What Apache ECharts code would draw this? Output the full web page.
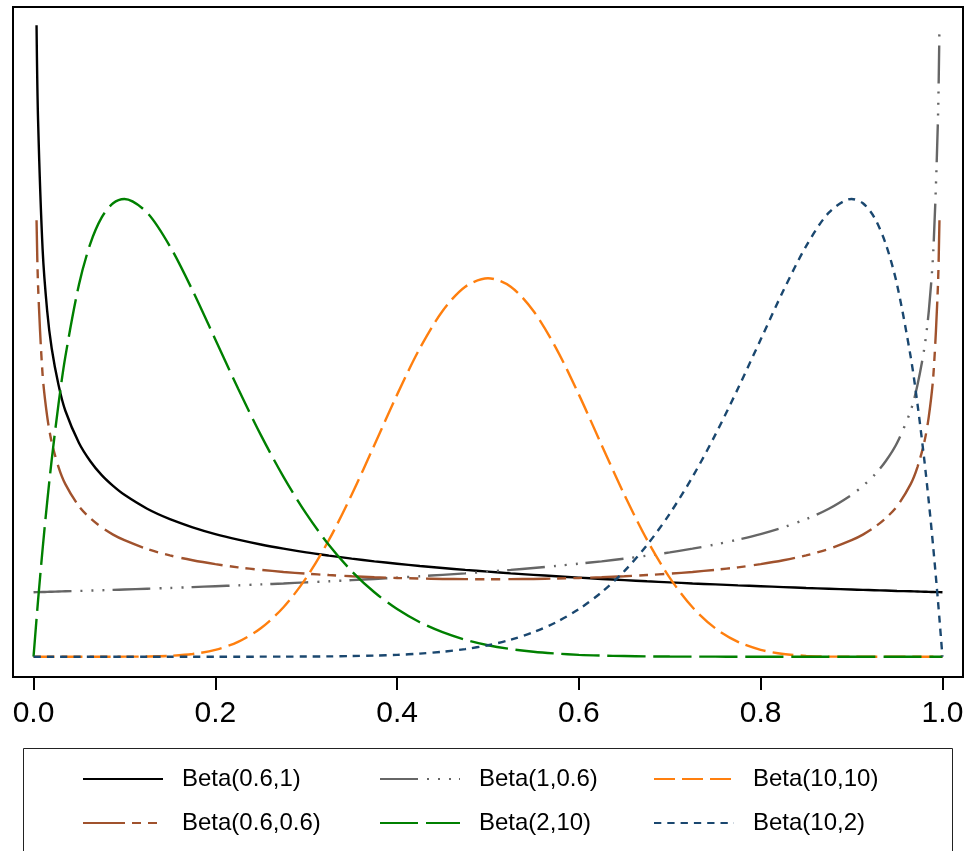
<!DOCTYPE html>
<html>
<head>
<meta charset="utf-8">
<script src="https://cdn.jsdelivr.net/npm/echarts@6.0.0/dist/echarts.min.js"></script>
<style>
  html, body { margin: 0; padding: 0; background: #fff; }
  #chart { width: 968px; height: 851px; }
</style>
</head>
<body>
<div id="chart"></div>
<script>
const xs = [0, 0.0033, 0.005, 0.01, 0.015, 0.02, 0.0275, 0.035, 0.05, 0.0625, 0.075, 0.0875,
  0.1, 0.125, 0.15, 0.175, 0.2, 0.225, 0.25, 0.275, 0.3, 0.325, 0.35, 0.375, 0.4, 0.425,
  0.45, 0.475, 0.5, 0.525, 0.55, 0.575, 0.6, 0.625, 0.65, 0.675, 0.7, 0.725, 0.75, 0.775,
  0.8, 0.825, 0.85, 0.875, 0.9,
  0.9125, 0.925, 0.9375, 0.95, 0.965, 0.9725, 0.98, 0.985, 0.99, 0.995, 0.9967, 1];

const beta_06_1 = [null, 5.88, 4.99, 3.79, 3.22, 2.87, 2.53, 2.29, 1.99, 1.82, 1.69, 1.590,
  1.507, 1.378, 1.281, 1.205, 1.142, 1.090, 1.045, 1.006, 0.971, 0.941, 0.913, 0.888, 0.866, 0.845,
  0.826, 0.808, 0.792, 0.776, 0.762, 0.749, 0.736, 0.724, 0.713, 0.702, 0.692, 0.682, 0.673, 0.664,
  0.656, 0.648, 0.640, 0.633, 0.626,
  0.622, 0.619, 0.616, 0.612, 0.609, 0.607, 0.605, 0.604, 0.602, 0.601, 0.601, 0.600];

const beta_1_06 = [0.600, 0.601, 0.601, 0.602, 0.604, 0.605, 0.607, 0.609, 0.612, 0.616, 0.619, 0.622,
  0.626, 0.633, 0.640, 0.648, 0.656, 0.664, 0.673, 0.682, 0.692, 0.702, 0.713, 0.724, 0.736, 0.749,
  0.762, 0.776, 0.792, 0.808, 0.826, 0.845, 0.866, 0.888, 0.913, 0.941, 0.971, 1.006, 1.045, 1.090,
  1.142, 1.205, 1.281, 1.378, 1.507,
  1.590, 1.69, 1.82, 1.99, 2.29, 2.53, 2.87, 3.22, 3.79, 4.99, 5.88, null];

const beta_10_10 = [0, 0, 0, 0, 0, 0, 0, 0, 0, 0, 0, 0,
  0.0004, 0.002, 0.008, 0.025, 0.064, 0.138, 0.265, 0.460, 0.734, 1.087, 1.508, 1.971, 2.440, 2.871,
  3.219, 3.445, 3.524, 3.445, 3.219, 2.871, 2.440, 1.971, 1.508, 1.087, 0.734, 0.460, 0.265, 0.138,
  0.064, 0.025, 0.008, 0.002, 0.0004,
  0, 0, 0, 0, 0, 0, 0, 0, 0, 0, 0, 0];

const beta_06_06 = [null, 4.064, 3.449, 2.621, 2.237, 1.996, 1.766, 1.607, 1.400, 1.289, 1.204, 1.137,
  1.085, 1.003, 0.943, 0.898, 0.862, 0.832, 0.809, 0.789, 0.773, 0.760, 0.749, 0.740, 0.733, 0.728,
  0.724, 0.722, 0.721, 0.722, 0.724, 0.728, 0.733, 0.740, 0.749, 0.760, 0.773, 0.789, 0.809, 0.832,
  0.862, 0.898, 0.943, 1.003, 1.085,
  1.137, 1.204, 1.289, 1.400, 1.607, 1.766, 1.996, 2.237, 2.621, 3.449, 4.064, null];

const beta_2_10 = [0, 0.352, 0.526, 1.005, 1.440, 1.834, 2.354, 2.794, 3.466, 3.846, 4.090, 4.222,
  4.262, 4.134, 3.822, 3.409, 2.953, 2.497, 2.065, 1.674, 1.332, 1.040, 0.797, 0.600, 0.443, 0.321,
  0.228, 0.158, 0.107, 0.071, 0.046, 0.029, 0.017, 0.010, 0.006, 0.003, 0.0015, 0.0007, 0.0003, 0.0001,
  0, 0, 0, 0, 0,
  0, 0, 0, 0, 0, 0, 0, 0, 0, 0, 0, 0];

const beta_10_2 = [0, 0, 0, 0, 0, 0, 0, 0, 0, 0, 0, 0,
  0, 0, 0, 0, 0, 0.0001, 0.0003, 0.0007, 0.0015, 0.003, 0.006, 0.010, 0.017, 0.029,
  0.046, 0.071, 0.107, 0.158, 0.228, 0.321, 0.443, 0.600, 0.797, 1.040, 1.332, 1.674, 2.065, 2.497,
  2.953, 3.409, 3.822, 4.134, 4.262,
  4.222, 4.090, 3.846, 3.466, 2.794, 2.354, 1.834, 1.440, 1.005, 0.526, 0.352, 0];

const xTicks = [0, 0.2, 0.4, 0.6, 0.8, 1];

// series in the order they were drawn (later ones on top)
const curves = [
  { name: 'Beta(0.6,1)',   values: beta_06_1,  color: '#000000', dash: 'solid' },
  { name: 'Beta(1,0.6)',   values: beta_1_06,  color: '#666666', dash: [38, 9, 2, 9, 2, 9, 2, 8] },
  { name: 'Beta(10,10)',   values: beta_10_10, color: '#ff7f0e', dash: [21, 7] },
  { name: 'Beta(0.6,0.6)', values: beta_06_06, color: '#a0522d', dash: [42, 7, 9, 7, 9, 8] },
  { name: 'Beta(2,10)',    values: beta_2_10,  color: '#008000', dash: [38, 8] },
  { name: 'Beta(10,2)',    values: beta_10_2,  color: '#1a476f', dash: [7.3, 6] }
];

const chart = echarts.init(document.getElementById('chart'));

const legendBase = {
  orient: 'vertical',
  top: 767,
  padding: 0,
  itemGap: 20,
  itemWidth: 80,
  itemHeight: 24,
  selectedMode: false,
  itemStyle: { opacity: 0 },
  textStyle: {
    fontFamily: 'Liberation Sans, Arial, sans-serif',
    fontSize: 24,
    lineHeight: 24,
    color: '#000',
    padding: [0, 0, 0, 14]
  }
};

chart.setOption({
  animation: false,
  backgroundColor: '#fff',
  grid: {
    left: 13,
    right: 5,
    top: 7,
    bottom: 174,
    show: true,
    borderColor: '#000',
    borderWidth: 2,
    backgroundColor: 'transparent'
  },
  xAxis: {
    type: 'value',
    min: -0.0226,
    max: 1.0226,
    axisLine: { show: false, onZero: false },
    splitLine: { show: false },
    axisTick: {
      show: true,
      inside: false,
      length: 13,
      customValues: xTicks,
      lineStyle: { color: '#000', width: 2 }
    },
    axisLabel: {
      customValues: xTicks,
      margin: 22,
      fontFamily: 'Liberation Sans, Arial, sans-serif',
      fontSize: 30,
      color: '#000',
      formatter: v => v.toFixed(1)
    }
  },
  yAxis: {
    type: 'value',
    min: -0.189,
    max: 6.049,
    show: false,
    splitLine: { show: false }
  },
  legend: [
    Object.assign({}, legendBase, { left: 82,  data: ['Beta(0.6,1)', 'Beta(0.6,0.6)'] }),
    Object.assign({}, legendBase, { left: 379, data: ['Beta(1,0.6)', 'Beta(2,10)'] }),
    Object.assign({}, legendBase, { left: 653, data: ['Beta(10,10)', 'Beta(10,2)'] })
  ],
  graphic: [{
    type: 'rect',
    silent: true,
    shape: { x: 23.5, y: 748.5, width: 929, height: 140 },
    style: { fill: 'none', stroke: '#222', lineWidth: 1 }
  }],
  series: curves.map(c => ({
    name: c.name,
    type: 'line',
    symbol: 'none',
    smooth: 0.3,
    color: c.color,
    lineStyle: { color: c.color, width: 2.4, type: c.dash },
    data: xs.map((x, i) => [x, c.values[i]]).filter(p => p[1] !== null)
  }))
});
</script>
</body>
</html>
